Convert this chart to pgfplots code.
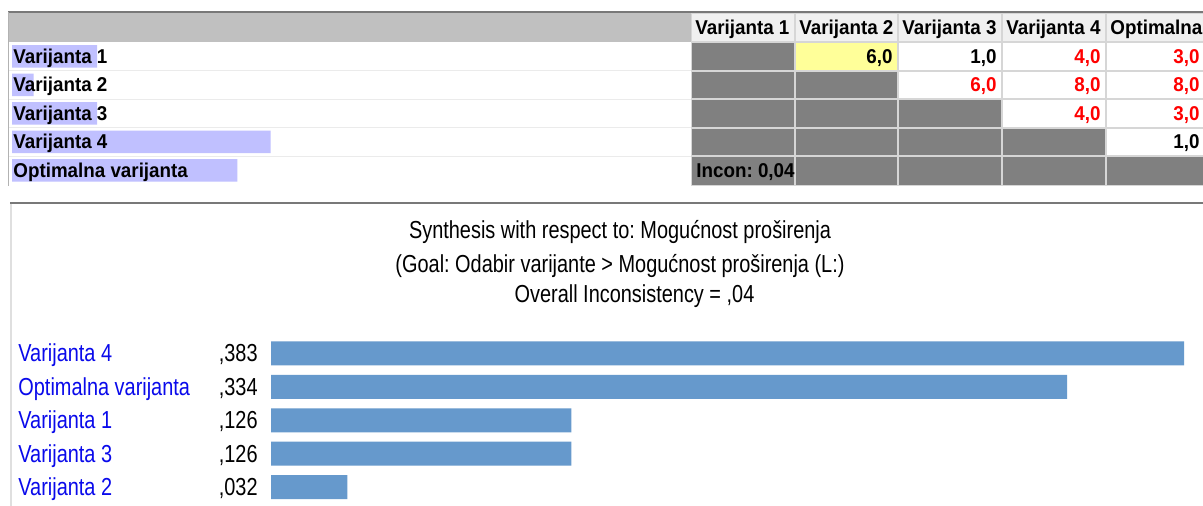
\documentclass[border=0pt]{standalone}
\usepackage{fontspec}
\setmainfont{Liberation Sans}
\newfontfamily\tabfont[FakeStretch=0.94,BoldFont={Liberation Sans Bold}]{Liberation Sans}
\newfontfamily\chfont[FakeStretch=0.81]{Liberation Sans}
\usepackage{pgfplots}
\pgfplotsset{compat=1.18}
\definecolor{barblue}{RGB}{102,153,204}
\definecolor{lav}{RGB}{192,192,255}
\definecolor{cellgray}{RGB}{128,128,128}
\definecolor{hdrgray}{RGB}{192,192,192}
\definecolor{hdrcell}{RGB}{240,240,240}
\definecolor{cellyel}{RGB}{255,255,153}
\definecolor{sepgray}{RGB}{235,235,235}
\definecolor{bordgray}{RGB}{214,214,214}
\definecolor{framegray}{RGB}{120,120,120}
\definecolor{lblblue}{RGB}{10,10,235}
\definecolor{numred}{RGB}{255,0,0}
\newcommand{\tf}{\tabfont\bfseries\fontsize{10}{11}\selectfont}
\newcommand{\cf}{\chfont\fontsize{12.3}{14}\selectfont}
\frenchspacing
\begin{document}
\begin{tikzpicture}
\useasboundingbox (0pt,0pt) rectangle (601.5pt,-253pt);
\clip (0pt,0pt) rectangle (601.5pt,-253pt);
\begin{scope}[x=0.5pt,y=-0.5pt]
\fill[white] (0,0) rectangle (1203,506);
% ---------- top table ----------
\fill[hdrgray] (8,12) rectangle (691,42);
\fill[bordgray] (691,12) rectangle (1215,186);
\foreach \xa/\xb in {692/794,796/897,899/1001,1003/1105,1107/1215}{
  \fill[hdrcell] (\xa,14) rectangle (\xb,41);
}
\draw[line width=1pt, framegray] (8,12.5) -- (1203,12.5);
\draw[line width=0.5pt, gray!60] (8.5,12) -- (8.5,186);
\foreach \y in {71,99.5,128,156.5}{
  \draw[line width=0.5pt, sepgray] (9,\y) -- (691,\y);
}
\foreach \r/\ya/\yb in {1/43/70,2/72/98,3/100/127,4/129/155,5/157/185}{
  \foreach \c/\xa/\xb in {1/692/794,2/796/897,3/899/1001,4/1003/1105,5/1107/1215}{
    \ifnum\c>\r
      \fill[white] (\xa,\ya) rectangle (\xb,\yb);
    \else
      \fill[cellgray] (\xa,\ya) rectangle (\xb,\yb);
    \fi
  }
}
\fill[cellyel] (796,43) rectangle (897,70);
\foreach \x/\t in {695/Varijanta 1,799/Varijanta 2,902/Varijanta 3,1006/Varijanta 4,1110/Optimalna}{
  \node[anchor=base west, inner sep=0, font=\tf] at (\x,35) {\t};
}
\end{scope}
% priority bars in row labels
\begin{axis}[at={(6pt,-21.125pt)}, anchor=north west, scale only axis,
  width=129.26pt, height=71.25pt, xmin=0, xmax=0.383, ymin=-0.5, ymax=4.5,
  y dir=reverse, hide axis, clip=false, xbar, bar width=11.25pt, bar shift=0pt]
\addplot[fill=lav, draw=none] coordinates {(0.126,0) (0.032,1) (0.126,2) (0.383,3) (0.334,4)};
\end{axis}
\begin{scope}[x=0.5pt,y=-0.5pt]
\foreach \y/\t in {63.5/Varijanta 1,92/Varijanta 2,120.5/Varijanta 3,149/Varijanta 4,178/Optimalna varijanta}{
  \node[anchor=base west, inner sep=0, font=\tf] at (13,\y) {\t};
}
% matrix values
\node[anchor=base east, inner sep=0, font=\tf] at (893,63.5) {6,0};
\node[anchor=base east, inner sep=0, font=\tf] at (997,63.5) {1,0};
\node[anchor=base east, inner sep=0, font=\tf, text=numred] at (1101,63.5) {4,0};
\node[anchor=base east, inner sep=0, font=\tf, text=numred] at (1200,63.5) {3,0};
\node[anchor=base east, inner sep=0, font=\tf, text=numred] at (997,92) {6,0};
\node[anchor=base east, inner sep=0, font=\tf, text=numred] at (1101,92) {8,0};
\node[anchor=base east, inner sep=0, font=\tf, text=numred] at (1200,92) {8,0};
\node[anchor=base east, inner sep=0, font=\tf, text=numred] at (1101,120.5) {4,0};
\node[anchor=base east, inner sep=0, font=\tf, text=numred] at (1200,120.5) {3,0};
\node[anchor=base east, inner sep=0, font=\tf] at (1200,149) {1,0};
\node[anchor=base west, inner sep=0, font=\tf] at (696,178) {Incon: 0,04};
% ---------- bottom panel ----------
\draw[line width=1pt, framegray] (10,203.5) -- (1203,203.5);
\draw[line width=1pt, gray!25] (11,204) -- (11,506);
\node[anchor=base, inner sep=0, font=\cf] at (620,239) {Synthesis with respect to: Mogućnost proširenja};
\node[anchor=base, inner sep=0, font=\cf] at (620,273) {(Goal: Odabir varijante > Mogućnost proširenja (L:)};
\node[anchor=base, inner sep=0, font=\cf] at (634.5,303) {Overall Inconsistency = ,04};
\end{scope}
\begin{axis}[at={(135.5pt,-168.4pt)}, anchor=north west, scale only axis,
  width=456.5pt, height=83.5pt, xmin=0, xmax=0.383, ymin=-0.5, ymax=4.5,
  y dir=reverse, hide axis, clip=false, xbar, bar width=12pt, bar shift=0pt]
\addplot[fill=barblue, draw=none] coordinates {(0.383,0) (0.334,1) (0.126,2) (0.126,3) (0.032,4)};
\node[anchor=base west, inner sep=0, font=\cf, text=lblblue] at ([xshift=-126.5pt,yshift=-4.2pt]axis cs:0,0) {Varijanta 4};
\node[anchor=base west, inner sep=0, font=\cf, text=lblblue] at ([xshift=-126.5pt,yshift=-4.2pt]axis cs:0,1) {Optimalna varijanta};
\node[anchor=base west, inner sep=0, font=\cf, text=lblblue] at ([xshift=-126.5pt,yshift=-4.2pt]axis cs:0,2) {Varijanta 1};
\node[anchor=base west, inner sep=0, font=\cf, text=lblblue] at ([xshift=-126.5pt,yshift=-4.2pt]axis cs:0,3) {Varijanta 3};
\node[anchor=base west, inner sep=0, font=\cf, text=lblblue] at ([xshift=-126.5pt,yshift=-4.2pt]axis cs:0,4) {Varijanta 2};
\node[anchor=base east, inner sep=0, font=\cf] at ([xshift=-6.5pt,yshift=-4.2pt]axis cs:0,0) {,383};
\node[anchor=base east, inner sep=0, font=\cf] at ([xshift=-6.5pt,yshift=-4.2pt]axis cs:0,1) {,334};
\node[anchor=base east, inner sep=0, font=\cf] at ([xshift=-6.5pt,yshift=-4.2pt]axis cs:0,2) {,126};
\node[anchor=base east, inner sep=0, font=\cf] at ([xshift=-6.5pt,yshift=-4.2pt]axis cs:0,3) {,126};
\node[anchor=base east, inner sep=0, font=\cf] at ([xshift=-6.5pt,yshift=-4.2pt]axis cs:0,4) {,032};
\end{axis}
\end{tikzpicture}
\end{document}
